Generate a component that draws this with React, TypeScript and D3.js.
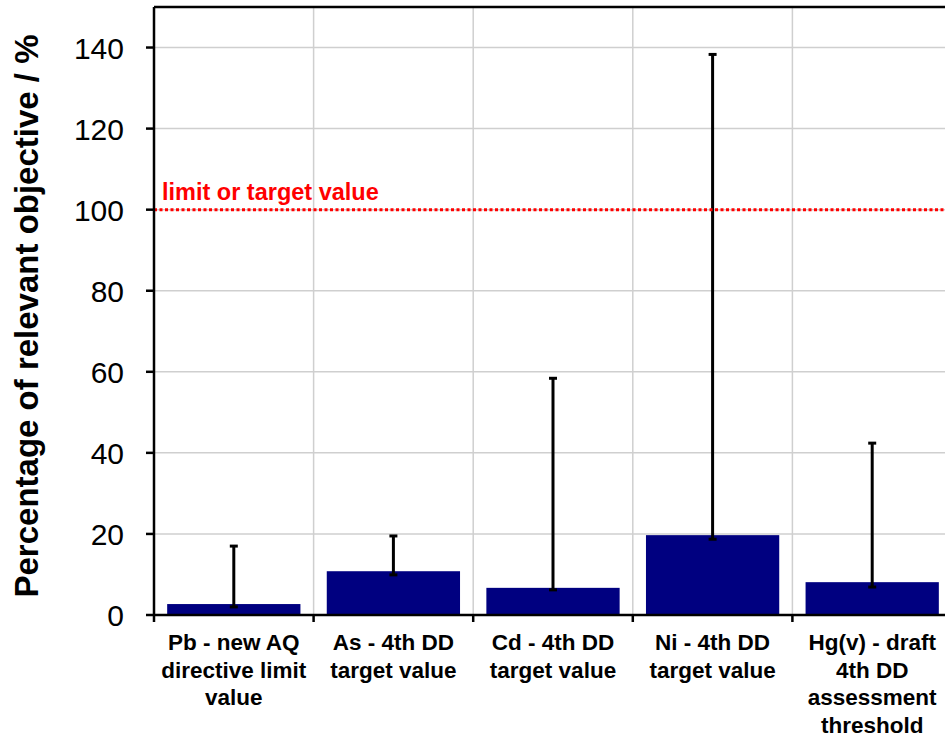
import React from 'react';
import * as d3 from 'd3';

const categories = [
    ['Pb - new AQ', 'directive limit', 'value'],
    ['As - 4th DD', 'target value'],
    ['Cd - 4th DD', 'target value'],
    ['Ni - 4th DD', 'target value'],
    ['Hg(v) - draft', '4th DD', 'assessment', 'threshold'],
];
const values = [2.7, 10.8, 6.7, 19.7, 8.1];
const errLow = [2.0, 9.9, 6.2, 18.7, 6.9];
const errHigh = [17.0, 19.5, 58.4, 138.3, 42.4];
const yTicks = [0, 20, 40, 60, 80, 100, 120, 140];
const limitValue = 100;

const W = 945;
const H = 735;
const left = 154;
const top = 7;
const bottom = 615;
const right = 952;

export default function App() {
    const x = d3.scaleBand<number>()
        .domain(d3.range(categories.length))
        .range([left, right])
        .paddingInner(0.165)
        .paddingOuter(0.0825);
    const y = d3.scaleLinear().domain([0, 150]).range([bottom, top]);
    const step = x.step();
    const font = 'Arial, "Liberation Sans", sans-serif';

    return (
        <svg width={W} height={H} style={{ position: 'absolute', left: 0, top: 0, background: '#fff' }}>
            {/* grid */}
            {yTicks.filter(t => t > 0).map(t => (
                <line key={'g' + t} x1={left} x2={right} y1={y(t)} y2={y(t)} stroke="#cfcfcf" strokeWidth={1.5} />
            ))}
            {d3.range(1, categories.length).map(i => (
                <line key={'v' + i} x1={left + i * step} x2={left + i * step} y1={top} y2={bottom} stroke="#cfcfcf" strokeWidth={1.5} />
            ))}
            {/* bars */}
            {values.map((v, i) => (
                <rect key={'b' + i} x={x(i)} y={y(v)} width={x.bandwidth()} height={bottom - y(v)} fill="#000080" />
            ))}
            {/* error bars */}
            {values.map((v, i) => {
                const cx = (x(i) as number) + x.bandwidth() / 2;
                return (
                    <g key={'e' + i} stroke="#000" strokeWidth={3}>
                        <line x1={cx} x2={cx} y1={y(errLow[i])} y2={y(errHigh[i])} />
                        <line x1={cx - 4} x2={cx + 4} y1={y(errHigh[i])} y2={y(errHigh[i])} />
                        <line x1={cx - 4} x2={cx + 4} y1={y(errLow[i])} y2={y(errLow[i])} />
                    </g>
                );
            })}
            {/* limit line */}
            <line x1={left} x2={right} y1={y(limitValue)} y2={y(limitValue)} stroke="#ff0000" strokeWidth={3} strokeDasharray="3,2.5" />
            <text x={162} y={200} fill="#ff0000" fontFamily={font} fontWeight="bold" fontSize={23.5}>limit or target value</text>
            {/* frame */}
            <line x1={left} x2={right} y1={top} y2={top} stroke="#000" strokeWidth={2.5} />
            <line x1={left} x2={left} y1={top} y2={bottom} stroke="#000" strokeWidth={2.5} />
            <line x1={left} x2={right} y1={bottom} y2={bottom} stroke="#000" strokeWidth={2.5} />
            {/* y ticks */}
            {yTicks.map(t => (
                <g key={'t' + t}>
                    <line x1={left - 8} x2={left} y1={y(t)} y2={y(t)} stroke="#000" strokeWidth={2.5} />
                    <text x={124} y={y(t) + 11} textAnchor="end" fontFamily={font} fontSize={30} fill="#000">{t}</text>
                </g>
            ))}
            {/* x ticks */}
            {d3.range(0, categories.length + 1).map(i => (
                <line key={'xt' + i} x1={left + i * step} x2={left + i * step} y1={bottom} y2={bottom + 7} stroke="#000" strokeWidth={2.5} />
            ))}
            {/* category labels */}
            {categories.map((lines, i) => (
                <text key={'c' + i} textAnchor="middle" fontFamily={font} fontWeight="bold" fontSize={22.5} fill="#000">
                    {lines.map((l, j) => (
                        <tspan key={j} x={(x(i) as number) + x.bandwidth() / 2} y={650 + j * 27.7}>{l}</tspan>
                    ))}
                </text>
            ))}
            <text transform={`translate(38, 316) rotate(-90)`} textAnchor="middle" fontFamily={font} fontWeight="bold" fontSize={33} fill="#000">
                Percentage of relevant objective / %
            </text>
        </svg>
    );
}
